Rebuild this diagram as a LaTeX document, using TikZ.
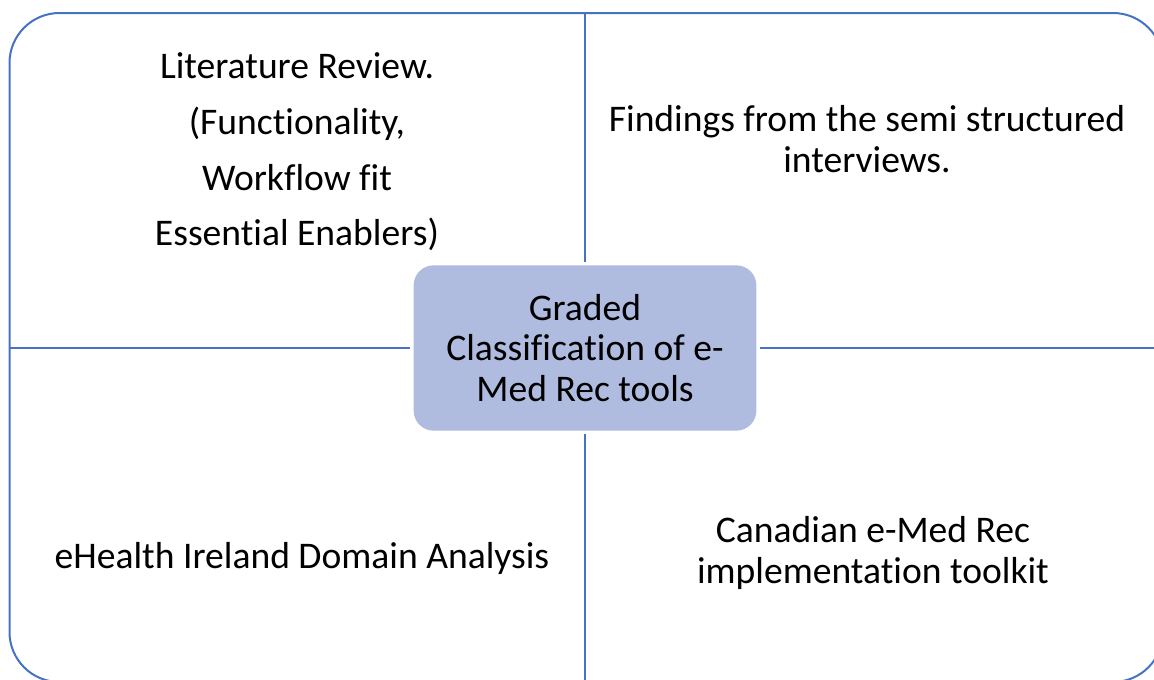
\documentclass[tikz,border=0pt]{standalone}
\usepackage{fontspec}
\setmainfont{Carlito}[Ligatures=NoCommon]
\begin{document}
\begin{tikzpicture}[x=0.75pt,y=0.75pt,yscale=-1,xscale=1,
    frameline/.style={draw={rgb, 255:red, 68; green, 114; blue, 196 }, line width=1.5pt},
    quadtext/.style={align=center, inner sep=0.75pt, font=\fontsize{28.2}{30.4}\selectfont},
    gradedbox/.style={quadtext, fill={rgb, 255:red, 175; green, 187; blue, 223 }, rounded corners=15pt,
        minimum width=257pt, minimum height=124pt}]
    \useasboundingbox (0,0) rectangle (1154,679);
    \clip (0,0) rectangle (1154,679);

    %Outer frame
    \draw [frameline, rounded corners=37.5pt] (9.5,13) rectangle (1163,682);
    \coordinate (top) at (585,13);
    \coordinate (bottom) at (585,682);
    \coordinate (left) at (9.5,348);
    \coordinate (right) at (1163,348);

    %Centre box
    \node [gradedbox] (graded) at (585,348) {Graded\\Classification of e-\\Med Rec tools};

    %Quadrant lines
    \draw [frameline, shorten <=2.5pt] (graded) -- (top);
    \draw [frameline, shorten <=2.5pt] (graded) -- (bottom);
    \draw [frameline, shorten <=2.5pt] (graded) -- (left);
    \draw [frameline, shorten <=2.5pt] (graded) -- (right);

    % Text Node
    \node [quadtext, font=\fontsize{28.2}{41.8}\selectfont] (litreview) at (297,152) {Literature Review.\\(Functionality,\\Workflow fit\\Essential Enablers)};
    % Text Node
    \node [quadtext] (findings) at (867,139) {Findings from the semi structured\\interviews.};
    % Text Node
    \node [quadtext] (ehealth) at (302,558) {eHealth Ireland Domain Analysis};
    % Text Node
    \node [quadtext] (toolkit) at (873,553) {Canadian e-Med Rec\\implementation toolkit};

\end{tikzpicture}
\end{document}
